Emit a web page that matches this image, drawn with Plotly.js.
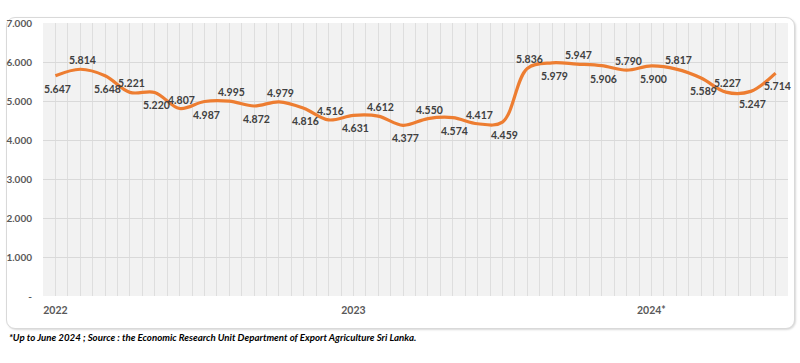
<!DOCTYPE html>
<html>
<head>
<meta charset="utf-8">
<script src="https://cdn.plot.ly/plotly-3.0.1.min.js"></script>
<style>
html,body{margin:0;padding:0;background:#fff;}
#wrap{position:relative;width:800px;height:363px;}
#frame{position:absolute;left:6px;top:17px;width:787px;height:310px;border:1px solid #d9d9d9;border-radius:9px;box-shadow:1px 1px 2px rgba(0,0,0,0.15);background:#fff;}
#chart{position:absolute;left:0;top:0;width:800px;height:363px;}
</style>
</head>
<body>
<div id="wrap"><div id="frame"></div><div id="chart"></div></div>
<script>
const months = ["Jan 2022","Feb 2022","Mar 2022","Apr 2022","May 2022","Jun 2022","Jul 2022","Aug 2022","Sep 2022","Oct 2022","Nov 2022","Dec 2022",
"Jan 2023","Feb 2023","Mar 2023","Apr 2023","May 2023","Jun 2023","Jul 2023","Aug 2023","Sep 2023","Oct 2023","Nov 2023","Dec 2023",
"Jan 2024","Feb 2024","Mar 2024","Apr 2024","May 2024","Jun 2024"];
const prices = [5.647,5.814,5.648,5.221,5.220,4.807,4.987,4.995,4.872,4.979,4.816,4.516,
4.631,4.612,4.377,4.550,4.574,4.417,4.459,5.836,5.979,5.947,5.906,5.790,
5.900,5.817,5.589,5.227,5.247,5.714];
const labelSide = ["bottom","top","bottom","top","bottom","top","bottom","top","bottom","top","bottom","top",
"bottom","top","bottom","top","bottom","top","bottom","top","bottom","top","bottom","top",
"bottom","top","bottom","top","bottom","bottom"];
const yearTickIdx = [0,12,24];
const yearTickText = ["2022","2023","2024*"];
const yTickVals = [0,1,2,3,4,5,6,7];
const yTickText = ["-","1.000","2.000","3.000","4.000","5.000","6.000","7.000"];
const footnote = "*Up to June 2024 ; Source : the Economic Research Unit Department of Export Agriculture Sri Lanka.";

const xIdx = months.map((m,i)=>i);
const FONT = "Lato, 'Open Sans', sans-serif";

const trace = {
  x: xIdx, y: prices, customdata: months,
  type: "scatter", mode: "lines",
  line: {color: "#ED7D31", width: 3.2, shape: "spline", smoothing: 1},
  hovertemplate: "%{customdata}: %{y:.3f}<extra></extra>"
};

const labelAnns = prices.map((v,i)=>({
  x: xIdx[i], y: v, xref: "x", yref: "y",
  text: v.toFixed(3).replace(".", "."),
  showarrow: false,
  xshift: 2,
  yshift: labelSide[i] === "top" ? 9 : -13,
  font: {family: FONT, size: 10.5, color: "#404040", weight: "bold"}
}));

const layout = {
  width: 800, height: 363,
  margin: {l: 43, r: 12, t: 23, b: 67},
  paper_bgcolor: "rgba(0,0,0,0)",
  plot_bgcolor: "#f2f2f2",
  showlegend: false,
  font: {family: FONT, color: "#595959"},
  xaxis: {
    range: [-0.5, 29.5],
    tickmode: "array", tickvals: yearTickIdx, ticktext: yearTickText,
    tickfont: {size: 10.5, color: "#595959", weight: "bold"},
    showgrid: true, gridcolor: "#dedede", gridwidth: 1,
    minor: {tickmode: "linear", tick0: -0.5, dtick: 0.5, showgrid: true, gridcolor: "#dedede", gridwidth: 1, ticklen: 0},
    zeroline: false, showline: false, ticks: "", ticklabelstandoff: 6
  },
  yaxis: {
    range: [0, 7],
    tickmode: "array", tickvals: yTickVals, ticktext: yTickText,
    tickfont: {size: 10, color: "#595959", weight: "bold"},
    showgrid: true, gridcolor: "#d9d9d9", gridwidth: 1,
    zeroline: false, showline: false, ticks: "", ticklabelstandoff: 10
  },
  annotations: labelAnns.concat([{
    text: footnote, xref: "paper", yref: "paper",
    x: (7-43)/745, y: (296-337)/273, xanchor: "left", yanchor: "middle",
    showarrow: false,
    font: {family: FONT, size: 9.7, color: "#000", weight: "bold", style: "italic"}
  }])
};

Plotly.newPlot("chart", [trace], layout, {displayModeBar: false, responsive: false});
</script>
</body>
</html>
